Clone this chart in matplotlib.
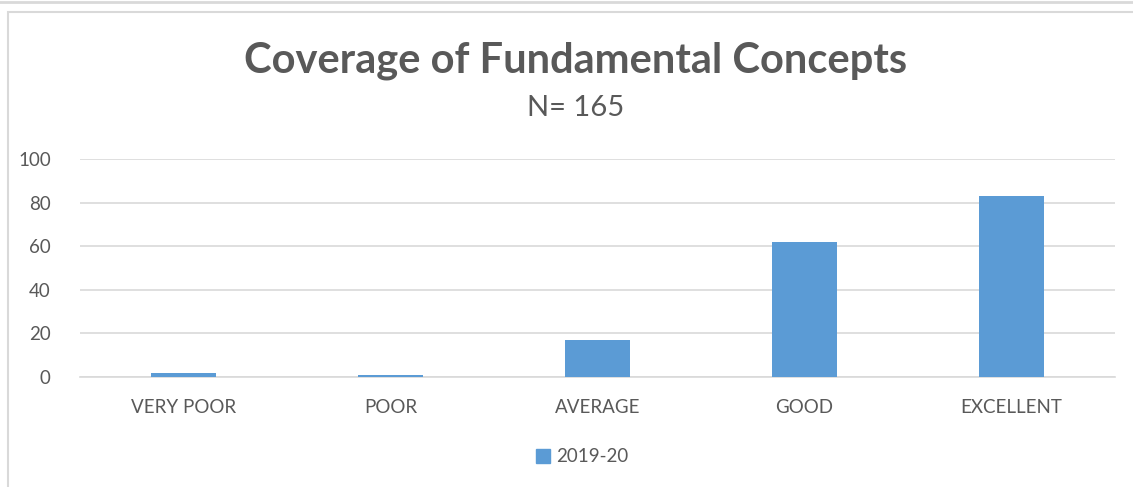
import matplotlib
matplotlib.use("Agg")
import matplotlib.pyplot as plt
from matplotlib.patches import Rectangle, Patch
from matplotlib.lines import Line2D

categories = ["VERY POOR", "POOR", "AVERAGE", "GOOD", "EXCELLENT"]
values_2019_20 = [2, 1, 17, 62, 83]
series_name = "2019-20"
yticks = [0, 20, 40, 60, 80, 100]

W, H = 1133, 487
fig = plt.figure(figsize=(W / 100, H / 100), dpi=100)
plt.rcParams['font.family'] = ['Lato', 'DejaVu Sans']
TXT = "#595959"

# screenshot frame
fig.add_artist(Line2D([0, 1], [1 - 1.5 / H, 1 - 1.5 / H], transform=fig.transFigure,
                      color="#d9d9d9", lw=2))
fig.add_artist(Rectangle((8 / W, -0.05), 1.2, 1 - 12 / H + 0.05, transform=fig.transFigure,
                         fill=False, edgecolor="#d9d9d9", lw=1.5))

ax = fig.add_axes([80 / W, 1 - 377 / H, (1115 - 80) / W, (377 - 159) / H])
x = range(len(categories))
ax.bar(x, values_2019_20, width=0.315, color="#5b9bd5", zorder=3)
ax.set_xlim(-0.5, len(categories) - 0.5)
ax.set_ylim(0, 100)
ax.set_yticks(yticks)
ax.set_xticks(list(x))
ax.set_xticklabels(categories)
ax.tick_params(axis="both", length=0, labelsize=13.5, colors=TXT)
ax.tick_params(axis="x", pad=16)
ax.tick_params(axis="y", pad=21)
ax.grid(axis="y", color="#d9d9d9", lw=1.2, zorder=0)
for s in ["top", "right", "left"]:
    ax.spines[s].set_visible(False)
ax.spines["bottom"].set_color("#d9d9d9")
ax.spines["bottom"].set_linewidth(1.2)

fig.text(576 / W, 1 - 61 / H, "Coverage of Fundamental Concepts", ha="center", va="center",
         fontsize=30, fontweight="bold", color=TXT)
fig.text(576 / W, 1 - 108 / H, "N= 165", ha="center", va="center",
         fontsize=21, color=TXT)

fig.legend(handles=[Patch(color="#5b9bd5", label=series_name)], loc="center",
           bbox_to_anchor=(582 / W, 1 - 457 / H), frameon=False, fontsize=13.5,
           handlelength=0.75, handleheight=0.75, handletextpad=0.3, labelcolor=TXT)

fig.savefig("out.png", dpi=100)
